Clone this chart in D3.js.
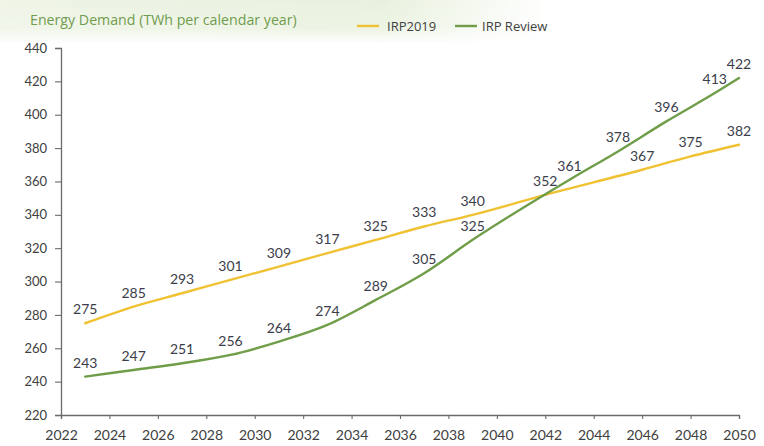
<!DOCTYPE html>
<html>
<head>
<meta charset="utf-8">
<script src="https://cdn.jsdelivr.net/npm/d3@7/dist/d3.min.js"></script>
<style>
  html, body { margin: 0; padding: 0; background: #fff; }
  svg { display: block; }
  text { font-family: Lato, "Open Sans", sans-serif; }
</style>
</head>
<body>
<svg id="chart" width="764" height="446"></svg>
<script>
// Energy demand projections (TWh per calendar year)
const irp2019Years  = [2023, 2025, 2027, 2029, 2031, 2033, 2035, 2037, 2039, 2042, 2046, 2048, 2050];
const irp2019Values = [275, 285, 293, 301, 309, 317, 325, 333, 340, 352, 367, 375, 382];

const reviewYears  = [2023, 2025, 2027, 2029, 2031, 2033, 2035, 2037, 2039, 2043, 2045, 2047, 2049, 2050];
const reviewValues = [243, 247, 251, 256, 264, 274, 289, 305, 325, 361, 378, 396, 413, 422];

const xTickYears  = [2022, 2024, 2026, 2028, 2030, 2032, 2034, 2036, 2038, 2040, 2042, 2044, 2046, 2048, 2050];
const yTickValues = [220, 240, 260, 280, 300, 320, 340, 360, 380, 400, 420, 440];

const seriesNames  = ["IRP2019", "IRP Review"];
const seriesColors = ["#f0c233", "#6f9d48"];
const titleText = "Energy Demand (TWh per calendar year)";

const svg = d3.select("#chart");

// soft green band behind the heading
const defs = svg.append("defs");
const hg = defs.append("linearGradient").attr("id", "bandH").attr("x1", 0).attr("x2", 1).attr("y1", 0).attr("y2", 0);
hg.append("stop").attr("offset", "0%").attr("stop-color", "#eef4e6");
hg.append("stop").attr("offset", "50%").attr("stop-color", "#e8f1dd");
hg.append("stop").attr("offset", "72%").attr("stop-color", "#ffffff");
const vg = defs.append("linearGradient").attr("id", "bandV").attr("x1", 0).attr("x2", 0).attr("y1", 0).attr("y2", 1);
vg.append("stop").attr("offset", "0%").attr("stop-color", "#fff").attr("stop-opacity", 1);
vg.append("stop").attr("offset", "65%").attr("stop-color", "#fff").attr("stop-opacity", 0.8);
vg.append("stop").attr("offset", "100%").attr("stop-color", "#fff").attr("stop-opacity", 0);
defs.append("mask").attr("id", "bandMask")
  .append("rect").attr("x", 0).attr("y", 0).attr("width", 764).attr("height", 44).attr("fill", "url(#bandV)");
svg.append("rect").attr("x", 0).attr("y", 0).attr("width", 764).attr("height", 44)
  .attr("fill", "url(#bandH)").attr("mask", "url(#bandMask)");

const x = d3.scaleLinear().domain([2022, 2050]).range([61, 739]);
const y = d3.scaleLinear().domain([220, 440]).range([415, 48]);

// axes
const axisColor = "#6b6b6b";
const xAxis = svg.append("g").attr("transform", `translate(0,${y(220)})`)
  .call(d3.axisBottom(x).tickValues(xTickYears).tickFormat(d3.format("d")).tickSize(4).tickPadding(8));
const yAxis = svg.append("g").attr("transform", `translate(${x(2022)},0)`)
  .call(d3.axisLeft(y).tickValues(yTickValues).tickSize(6).tickPadding(8));
[xAxis, yAxis].forEach(g => {
  g.select(".domain").attr("stroke", axisColor).attr("stroke-width", 1.3);
  g.selectAll(".tick line").attr("stroke", axisColor).attr("stroke-width", 1.1);
  g.selectAll(".tick text").attr("fill", "#404040").attr("font-size", 13)
    .style("font-family", "Lato, 'Open Sans', sans-serif");
});
xAxis.selectAll(".tick text").attr("font-size", 14).attr("dy", "0.95em");

// series
const series = [
  { name: seriesNames[0], color: seriesColors[0], pts: irp2019Years.map((yr, i) => ({ yr, v: irp2019Values[i] })) },
  { name: seriesNames[1], color: seriesColors[1], pts: reviewYears.map((yr, i) => ({ yr, v: reviewValues[i] })) }
];

const line = d3.line().x(d => x(d.yr)).y(d => y(d.v)).curve(d3.curveMonotoneX);

series.forEach(s => {
  svg.append("path").datum(s.pts)
    .attr("fill", "none").attr("stroke", s.color).attr("stroke-width", 2.4)
    .attr("stroke-linecap", "round").attr("d", line);
});

series.forEach(s => {
  svg.append("g").selectAll("text").data(s.pts).join("text")
    .attr("x", d => x(d.yr))
    .attr("y", d => y(d.v) - 9)
    .attr("text-anchor", "middle")
    .attr("font-size", 14)
    .attr("fill", "#3b3d4a")
    .text(d => d.v);
});

// heading and legend
svg.append("text").attr("x", 30).attr("y", 25).attr("font-size", 14.2)
  .style("font-family", "'Open Sans', sans-serif").attr("font-weight", 400)
  .attr("fill", "#6f9c4e").text(titleText);

const legendItems = [
  { lx: 357, tx: 387 },
  { lx: 455, tx: 482 }
];
legendItems.forEach((p, i) => {
  svg.append("line").attr("x1", p.lx).attr("x2", p.lx + 22).attr("y1", 26).attr("y2", 26)
    .attr("stroke", seriesColors[i]).attr("stroke-width", 2.4);
  svg.append("text").attr("x", p.tx).attr("y", 30.5).attr("font-size", 13)
    .style("font-family", "'Open Sans', sans-serif")
    .attr("fill", "#404040").text(seriesNames[i]);
});
</script>
</body>
</html>
